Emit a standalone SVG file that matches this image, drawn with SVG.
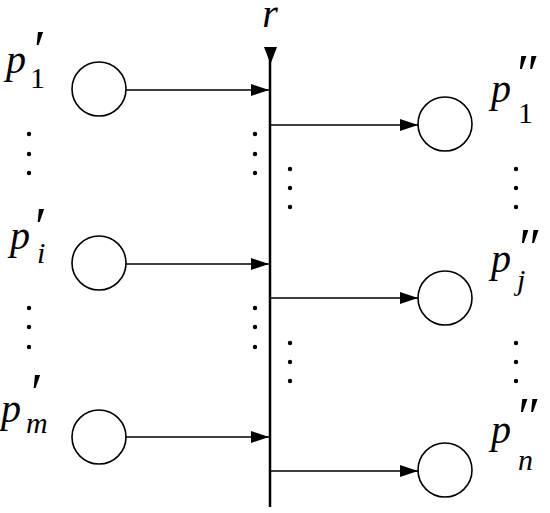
<svg xmlns="http://www.w3.org/2000/svg" width="550" height="513" viewBox="0 0 550 513">
<style>
.node circle{fill:#fff;stroke:#000;stroke-width:1.6}
text{font-family:'Liberation Serif','DejaVu Serif',serif;fill:#000}
.lb{font-style:italic;font-size:40px}
.pr{font-style:normal;font-size:54px}
.s{font-style:normal;font-size:30px}
.si{font-style:italic;font-size:30px}
.ln{stroke:#000;stroke-width:1.5;fill:none}
.dot{fill:#000}
</style>
<defs>
<marker id="ah" viewBox="0 0 18 12" refX="18" refY="6" markerWidth="18" markerHeight="12" markerUnits="userSpaceOnUse" orient="auto">
<path d="M0,0 L18,6 L0,12 Z" fill="#000"/>
</marker>
</defs>
<g id="bar">
<line x1="270" y1="50" x2="270" y2="507" stroke="#000" stroke-width="2.5"/>
<polygon points="264,47 277,47 270.5,64" fill="#000"/>
<text class="lb" x="270" y="27" font-size="36" text-anchor="middle">r</text>
</g>
<g id="connectors">
<line class="ln" x1="125" y1="90" x2="269" y2="90" marker-end="url(#ah)"/>
<line class="ln" x1="125" y1="264" x2="269" y2="264" marker-end="url(#ah)"/>
<line class="ln" x1="125" y1="437" x2="269" y2="437" marker-end="url(#ah)"/>
<line class="ln" x1="271" y1="125" x2="418" y2="125" marker-end="url(#ah)"/>
<line class="ln" x1="271" y1="298" x2="418" y2="298" marker-end="url(#ah)"/>
<line class="ln" x1="271" y1="471" x2="418" y2="471" marker-end="url(#ah)"/>
</g>
<g id="p1prime" class="node">
<circle cx="99" cy="89" r="27"/>
<text class="lb" x="6" y="73">p<tspan class="pr" x="34" y="68">′</tspan><tspan class="s" x="30" y="88">1</tspan></text>
</g>
<g id="piprime" class="node">
<circle cx="99" cy="263" r="27"/>
<text class="lb" x="10" y="249">p<tspan class="pr" x="35" y="245">′</tspan><tspan class="si" x="37" y="263">i</tspan></text>
</g>
<g id="pmprime" class="node">
<circle cx="99" cy="437" r="27"/>
<text class="lb" x="1" y="422">p<tspan class="pr" x="31" y="411">′</tspan><tspan class="si" x="26" y="433">m</tspan></text>
</g>
<g id="p1dprime" class="node">
<circle cx="445" cy="124" r="27"/>
<text class="lb" x="491" y="102">p<tspan class="pr" x="517" y="92">″</tspan><tspan class="s" x="518" y="123">1</tspan></text>
</g>
<g id="pjdprime" class="node">
<circle cx="445" cy="298" r="27"/>
<text class="lb" x="491" y="272">p<tspan class="pr" x="519" y="266">″</tspan><tspan class="si" x="517" y="290">j</tspan></text>
</g>
<g id="pndprime" class="node">
<circle cx="445" cy="470" r="27"/>
<text class="lb" x="491" y="443">p<tspan class="pr" x="518" y="435">″</tspan><tspan class="si" x="518" y="470">n</tspan></text>
</g>
<g id="dots" class="dot">
<circle cx="29" cy="134" r="2.2"/><circle cx="29" cy="154" r="2.2"/><circle cx="29" cy="173" r="2.2"/>
<circle cx="29" cy="308" r="2.2"/><circle cx="29" cy="327" r="2.2"/><circle cx="29" cy="347" r="2.2"/>
<circle cx="255" cy="134" r="2.2"/><circle cx="255" cy="154" r="2.2"/><circle cx="255" cy="173" r="2.2"/>
<circle cx="255" cy="308" r="2.2"/><circle cx="255" cy="327" r="2.2"/><circle cx="255" cy="347" r="2.2"/>
<circle cx="290" cy="169" r="2.2"/><circle cx="290" cy="188" r="2.2"/><circle cx="290" cy="207" r="2.2"/>
<circle cx="290" cy="343" r="2.2"/><circle cx="290" cy="362" r="2.2"/><circle cx="290" cy="381" r="2.2"/>
<circle cx="516" cy="169" r="2.2"/><circle cx="516" cy="188" r="2.2"/><circle cx="516" cy="207" r="2.2"/>
<circle cx="516" cy="343" r="2.2"/><circle cx="516" cy="362" r="2.2"/><circle cx="516" cy="381" r="2.2"/>
</g>
</svg>
